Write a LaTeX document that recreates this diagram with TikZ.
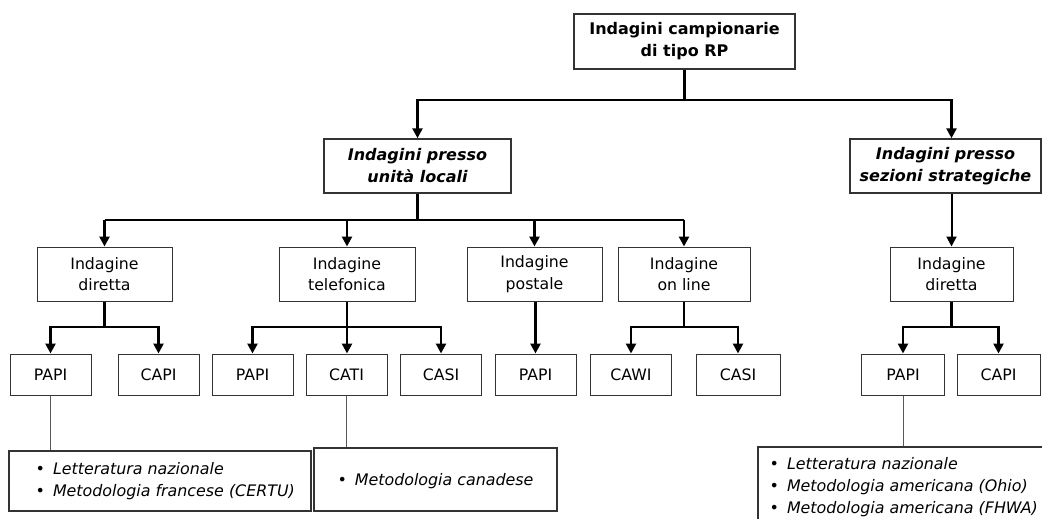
\documentclass[tikz,border=0pt]{standalone}
\usepackage{fontspec}
\setmainfont{DejaVu Sans}
\usetikzlibrary{arrows.meta,calc}
\begin{document}
\begin{tikzpicture}[x=0.75pt,y=-0.75pt,
  box/.style={draw=black!80, line width=0.75pt, fill=white, align=center,
    inner sep=0pt, font=\fontsize{11.8}{16}\selectfont},
  headbox/.style={box, line width=1.1pt, font=\fontsize{12}{16.5}\selectfont\bfseries},
  groupbox/.style={headbox, font=\fontsize{12}{16.5}\selectfont\bfseries\itshape},
  methodbox/.style={box, minimum height=54*0.75pt},
  leafbox/.style={box, minimum width=81*0.75pt, minimum height=41*0.75pt},
  listbox/.style={draw=black!80, line width=0.9pt, fill=white, inner sep=0pt},
  listtext/.style={anchor=west, align=left, inner sep=0pt,
    font=\fontsize{11.9}{16.5}\selectfont},
  wire/.style={line width=2pt},
  link/.style={wire, -{Triangle[width=7.5pt,length=7.5pt]}},
  note/.style={draw=black!65, line width=0.6pt},
]
\useasboundingbox (0,0) rectangle (1042,518);
\fill[white] (0,0) rectangle (1042,518);
\clip (0,0) rectangle (1042,518);

% bus levels
\coordinate (bus1) at (0,100);
\coordinate (bus2) at (0,220);
\coordinate (bus3) at (0,327);

% root
\node[headbox, minimum width=221*0.75pt, minimum height=55*0.75pt] (top) at (684.5,41.5)
  {Indagini campionarie\\di tipo RP};

% survey families
\node[groupbox, minimum width=187*0.75pt, minimum height=54*0.75pt] (L2a) at (417.5,166)
  {Indagini presso\\unità locali};
\node[groupbox, minimum width=191*0.75pt, minimum height=54*0.75pt] (L2b) at (945.5,166)
  {Indagini presso\\sezioni strategiche};

% survey modes
\node[methodbox, minimum width=135*0.75pt] (d1) at (104.5,274) {Indagine\\diretta};
\node[methodbox, minimum width=136*0.75pt] (tel) at (347,274) {Indagine\\telefonica};
\node[methodbox, minimum width=135*0.75pt] (post) at (534.5,274) {Indagine\\postale};
\node[methodbox, minimum width=132*0.75pt] (online) at (684,274) {Indagine\\on line};
\node[methodbox, minimum width=123*0.75pt] (d2) at (951.5,274) {Indagine\\diretta};

% techniques
\node[leafbox] (p1) at (50.5,374.5) {PAPI};
\node[leafbox] (c1) at (158.5,374.5) {CAPI};
\node[leafbox] (p2) at (252.5,374.5) {PAPI};
\node[leafbox] (cati) at (346.5,374.5) {CATI};
\node[leafbox] (casi1) at (441,374.5) {CASI};
\node[leafbox] (p3) at (535.5,374.5) {PAPI};
\node[leafbox] (cawi) at (631,374.5) {CAWI};
\node[leafbox, minimum width=84*0.75pt] (casi2) at (738,374.5) {CASI};
\node[leafbox, minimum width=83*0.75pt] (p4) at (903,374.5) {PAPI};
\node[leafbox, minimum width=83*0.75pt] (c4) at (998.5,374.5) {CAPI};

% reference lists
\node[listbox, minimum width=302*0.75pt, minimum height=60*0.75pt] (A) at (160,481) {};
\node[listtext] (At) at ($(A.west)+(27,0)$)
  {•\hspace{6pt}\textit{Letteratura nazionale}\\
   •\hspace{6pt}\textit{Metodologia francese (CERTU)}};
\node[listbox, minimum width=243*0.75pt, minimum height=63*0.75pt] (B) at (435.5,479.5) {};
\node[listtext, anchor=center] (Bt) at ($(B.center)+(0,2)$)
  {•\hspace{6pt}\textit{Metodologia canadese}};
\node[listbox, minimum width=300*0.75pt, minimum height=80*0.75pt] (C) at (908,487) {};
\node[listtext] (Ct) at ($(C.west)+(12,0)$)
  {•\hspace{6pt}\textit{Letteratura nazionale}\\
   •\hspace{6pt}\textit{Metodologia americana (Ohio)}\\
   •\hspace{6pt}\textit{Metodologia americana (FHWA)}};

% root to families
\draw[wire] (top.south) -- (top.south |- bus1);
\draw[link] (top.south |- bus1) -| (L2a.north);
\draw[link] (top.south |- bus1) -| (d2.north |- L2b.north);

% local units to modes
\draw[wire] (L2a.south) -- (L2a.south |- bus2);
\draw[wire] (d1.north |- bus2) -- (online.north |- bus2);
\draw[link] (d1.north |- bus2) -- (d1.north);
\draw[link] (tel.north |- bus2) -- (tel.north);
\draw[link] (post.north |- bus2) -- (post.north);
\draw[link] (online.north |- bus2) -- (online.north);

% strategic sections to mode
\draw[link, line width=1.5pt] (d2.north |- L2b.south) -- (d2.north);

% modes to techniques
\draw[wire] (d1.south) -- (d1.south |- bus3);
\draw[link] (d1.south |- bus3) -| (p1.north);
\draw[link] (d1.south |- bus3) -| (c1.north);

\draw[link] (tel.south) -- (tel.south |- cati.north);
\draw[link] (tel.south |- bus3) -| (p2.north);
\draw[link] (tel.south |- bus3) -| (casi1.north);

\draw[link] (p3.north |- post.south) -- (p3.north);

\draw[wire] (online.south) -- (online.south |- bus3);
\draw[link] (online.south |- bus3) -| (cawi.north);
\draw[link] (online.south |- bus3) -| (casi2.north);

\draw[wire] (d2.south) -- (d2.south |- bus3);
\draw[link] (d2.south |- bus3) -| (p4.north);
\draw[link] (d2.south |- bus3) -| (c4.north);

% techniques to references
\draw[note] (p1.south) -- (p1.south |- A.north);
\draw[note] (cati.south) -- (cati.south |- B.north);
\draw[note] (p4.south) -- (p4.south |- C.north);
\end{tikzpicture}
\end{document}
